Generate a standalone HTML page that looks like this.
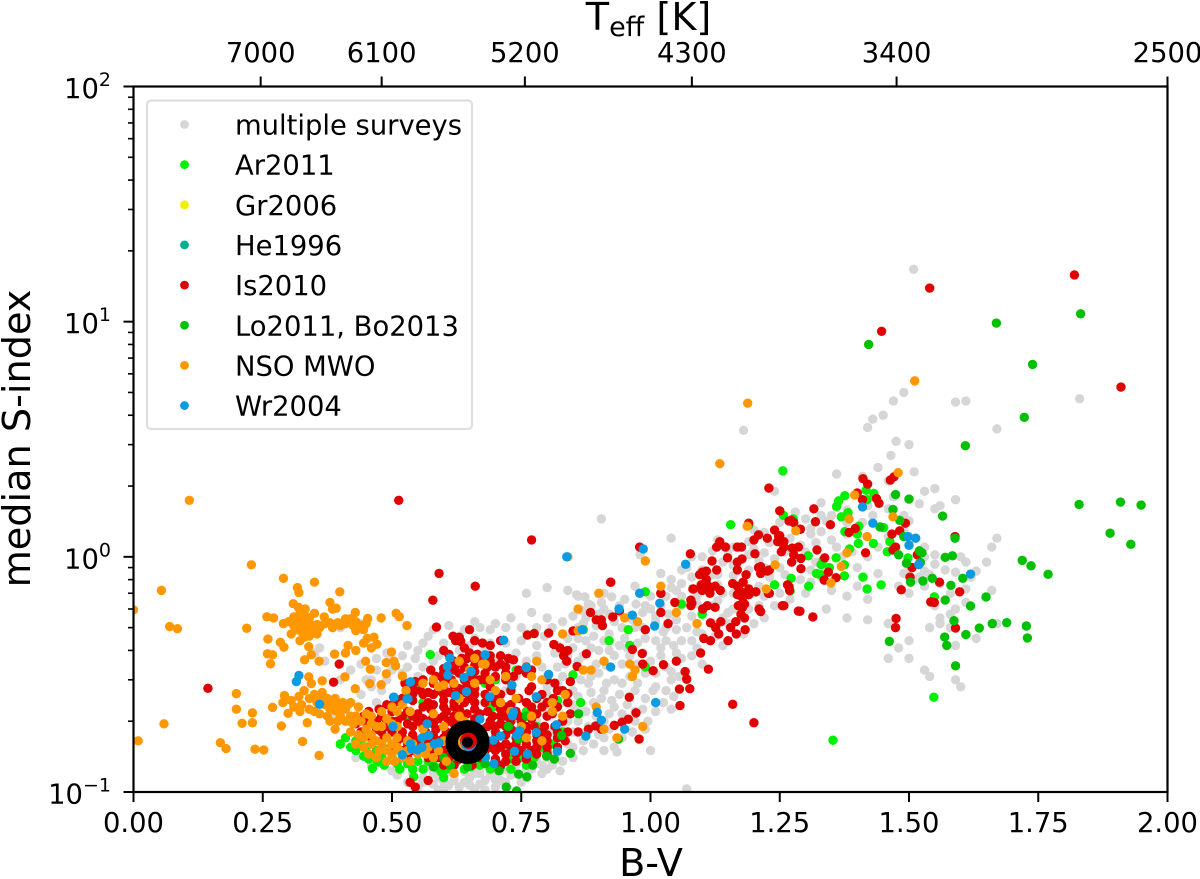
<!DOCTYPE html>
<html lang="en">
<head>
<meta charset="utf-8">
<title>Median S-index versus B-V</title>
<style>
html,body{margin:0;padding:0;background:#fff;}
svg{display:block;}
text{font-family:"DejaVu Sans","Liberation Sans",sans-serif;fill:#000;}
</style>
</head>
<body>
<svg id="chart" xmlns="http://www.w3.org/2000/svg" width="1200" height="879" viewBox="0 0 1200 879">
<defs><clipPath id="plot-clip"><rect x="133.5" y="86.5" width="1034" height="705.5"/></clipPath></defs>
<rect x="0" y="0" width="1200" height="879" fill="#fff"/>
<g id="points" clip-path="url(#plot-clip)"></g>
<g id="sun"></g>
<g id="axes"></g>
<g id="legend"></g>
<text x="651" y="876" font-size="38.2" text-anchor="middle">B-V</text>
<text x="648.5" y="30" font-size="38.2" text-anchor="middle">T<tspan font-size="27" dy="6">eff</tspan><tspan dy="-6"> [K]</tspan></text>
<text transform="translate(30,438.5) rotate(-90)" font-size="38.2" text-anchor="middle">median S-index</text>
</svg>
<script>
const xTickValues=[0,0.25,0.5,0.75,1,1.25,1.5,1.75,2];
const xTickLabels=["0.00","0.25","0.50","0.75","1.00","1.25","1.50","1.75","2.00"];
const yDecades=[-1,0,1,2];
const teffLabels=["7000","6100","5200","4300","3400","2500"];
const teffTickBV=[0.246,0.48,0.757,1.08,1.476,2.0];
const legendLabels=["multiple surveys","Ar2011","Gr2006","He1996","Is2010","Lo2011, Bo2013","NSO MWO","Wr2004"];
const legendColors=["#d6d6d6","#00f000","#f0f000","#00b090","#e00000","#00c000","#ff9800","#0a9be0"];
const sunPoint=[0.646,0.163];

const surveyGrey=[
[1.509,16.7],[1.83,4.7],[1.59,4.55],[1.61,4.6],[1.67,3.5],[1.475,3.1],[1.45,4.0],[1.47,4.6],[1.42,3.55],[1.18,3.45],[1.43,3.85],[1.49,5.0],[1.5,3.0],[1.465,2.7],[1.41,2.2],[1.51,2.3],[1.44,2.4],[1.36,2.25],[1.46,2.1],[0.905,1.45],[1.24,1.9],
[1.53,1.9],[1.55,1.95],[1.59,1.75],[1.47,1.8],[1.52,1.68],[1.55,1.6],[1.56,1.65],[1.42,1.65],[1.33,1.7],[1.36,1.62],[1.38,1.58],[1.35,1.5],[1.34,1.42],[1.33,1.5],[1.49,1.5],[1.5,1.42],[1.38,1.4],[1.3,1.45],[1.28,1.35],[1.31,1.32],[1.27,1.2],[1.33,1.28],[1.35,1.18],[1.31,1.25],[1.29,1.12],[1.26,1.05],[1.28,0.98],[1.3,1.05],[1.32,0.95],[1.34,0.9],[1.37,1.0],[1.36,1.1],[1.39,1.05],[1.33,0.82],[1.31,0.88],[1.24,0.98],[1.22,1.04],[1.23,0.82],[1.25,0.9],[1.24,0.76],[1.21,0.75],[1.6,1.0],[1.61,0.95],[1.65,0.95],[1.66,1.1],[1.67,1.2],[1.63,0.87],[1.62,0.82],[1.61,0.73],[1.59,0.86],[1.57,0.88],[1.55,0.93],[1.53,0.87],[1.52,0.95],[1.5,0.9],[1.54,0.84],[1.56,0.77],[1.53,0.75],[1.51,0.8],[1.49,0.85],[1.58,0.7],[1.66,0.72],[1.61,0.64],[1.59,0.6],[1.55,0.62],[1.56,0.55],[1.58,0.57],[1.56,0.52],[1.54,0.5],[1.58,0.5],[1.67,0.52],[1.63,0.45],[1.59,0.42],[1.48,0.41],[1.5,0.44],[1.46,0.37],[1.5,0.37],[1.53,0.33],[1.54,0.31],[1.59,0.3],[1.6,0.28],[1.42,0.66],[1.38,0.55],[1.42,0.54],[1.34,0.6],[1.46,0.52],
[0.98,1.02],[1.04,1.2],[0.97,0.75],[1.02,0.85],[1.06,0.88],[1.08,1.0],[1.1,1.0],[1.12,1.06],[1.15,1.02],[1.13,1.18],[1.16,1.1],[1.19,1.16],[1.2,1.3],[1.22,1.27],[1.19,1.02],[1.21,0.96],[1.04,0.74],[1.05,0.72],[1.09,0.68],[1.14,0.95],[1.12,0.84],[1.16,0.83],[1.18,0.78],[1.1,0.76],[1.08,0.82],[1.06,0.77],[1.0,0.68],[1.02,0.62],[1.14,0.7],[1.17,0.62],[1.2,0.7],[1.21,0.62],[1.15,0.58],[1.12,0.62],[1.1,0.58],[1.08,0.56],[1.06,0.62],[1.18,0.55],[1.14,0.55],[1.22,0.55],[1.12,0.52],[1.18,0.47],[1.14,0.42],[1.09,0.48],[1.07,0.5],[1.05,0.54],[1.03,0.5],[1.01,0.56],[1.03,0.44],[1.06,0.44],[1.09,0.41],[1.02,0.41],[0.99,0.45],[0.97,0.5],[0.94,0.62],[0.91,0.7],[0.88,0.63],[0.86,0.68],[0.84,0.72],[0.8,0.74],[0.76,0.7],[0.87,0.52],[0.9,0.57],[0.93,0.53],[0.96,0.56],[0.99,0.62],[0.95,0.45],[0.92,0.47],[0.89,0.46],[0.86,0.45],[0.83,0.47],[0.8,0.55],[0.77,0.58],[0.73,0.55],[0.7,0.52],[0.67,0.5],[0.64,0.49],[0.82,0.42],[0.78,0.42],[0.75,0.44],[0.72,0.43],[0.69,0.43],[0.84,0.38],[0.87,0.38],[0.9,0.4],[0.93,0.38],[0.96,0.38],[1.0,0.36],[1.03,0.34],[0.99,0.32],[0.96,0.31],[0.93,0.3],[0.9,0.32],[0.87,0.33],[0.82,0.34],[0.79,0.34],[0.76,0.36],[0.73,0.36],[0.7,0.36],[0.67,0.37],[0.63,0.4],[0.6,0.43],[0.57,0.46],[0.55,0.4],[0.52,0.38],[0.5,0.36],[0.47,0.33],[0.44,0.35],[0.42,0.33],[0.45,0.3],
[0.97,0.27],[0.94,0.26],[0.91,0.27],[0.88,0.29],[0.85,0.27],[0.82,0.29],[0.8,0.26],[0.77,0.28],[0.74,0.31],[0.99,0.25],[1.01,0.28],[0.97,0.22],[0.93,0.23],[0.89,0.24],[0.86,0.22],[0.83,0.24],[0.8,0.22],[0.76,0.24],[0.91,0.2],[0.88,0.19],[0.84,0.2],[0.81,0.18],[0.87,0.165],[0.84,0.16],[0.82,0.15],[0.8,0.16],[0.85,0.18],[0.91,0.17],[0.77,0.14],[0.79,0.13],[0.76,0.125],[0.74,0.13],[0.99,0.185],[1.0,0.15],[0.93,0.155],[1.07,0.103],[1.04,0.3],[1.07,0.3],[1.1,0.35],[1.06,0.37],[0.66,0.103],[0.68,0.102],[0.7,0.105],[0.63,0.105],[0.6,0.103],[0.58,0.108],[0.55,0.105],[0.53,0.11],[0.56,0.115],[0.59,0.115],[0.62,0.112],[0.65,0.115],[0.68,0.112],[0.71,0.112],[0.73,0.118],[0.61,0.122],[0.64,0.122],[0.67,0.12],[0.7,0.12],[0.72,0.125],[0.66,0.127],[0.69,0.128],[0.51,0.118],[0.5,0.123],[0.57,0.128],[0.6,0.13],[0.46,0.13],[0.43,0.14],[0.41,0.17],
[0.5,0.22],[0.47,0.24],[0.48,0.27],[0.44,0.26],[0.42,0.24],[0.53,0.28],[0.55,0.31],[0.52,0.32],[0.49,0.3],[0.58,0.36],[0.6,0.33],[0.56,0.34],[0.62,0.36],[0.65,0.33],[0.68,0.31],[0.46,0.28],[0.37,0.36],[0.35,0.39],[0.36,0.41],[0.34,0.55],[0.4,0.5],[0.44,0.52],[0.4,0.3],[0.37,0.24],[0.39,0.21],
[0.72,0.2],[0.7,0.16],[0.75,0.18],[0.78,0.2],[0.72,0.27],[0.7,0.3],[0.78,0.16],[0.74,0.15]
];
const surveyGreyBand=[
[0.857,0.69],[0.873,0.676],[0.925,0.676],[0.885,0.62],[0.905,0.64],[0.95,0.66],[0.972,0.63],[0.868,0.59],[0.91,0.6],[0.94,0.58],[0.985,0.58],[1.0,0.6],[0.85,0.56],[0.875,0.55],[0.92,0.57],[0.965,0.54],[1.01,0.53],[1.035,0.57],[0.83,0.53],[0.86,0.5],[0.895,0.51],[0.945,0.5],[0.985,0.5],[1.025,0.48],[1.05,0.49],[0.81,0.5],[0.84,0.45],[0.875,0.44],[0.91,0.44],[0.94,0.42],[0.975,0.43],[1.01,0.44],[1.045,0.42],[0.795,0.46],[0.815,0.39],[0.85,0.41],[0.885,0.41],[0.92,0.4],[0.955,0.41],[0.985,0.39],[1.02,0.38],[1.05,0.39],[1.08,0.38],[0.78,0.38],[0.835,0.35],[0.86,0.36],[0.895,0.35],[0.915,0.345],[0.945,0.35],[0.975,0.35],[1.01,0.32],[1.04,0.325],[1.055,0.31],[0.8,0.31],[0.83,0.31],[0.865,0.3],[0.885,0.31],[0.915,0.29],[0.945,0.29],[0.975,0.29],[1.005,0.27],[1.03,0.27],[1.045,0.255],[0.8,0.28],[0.835,0.25],[0.86,0.255],[0.885,0.265],[0.905,0.25],[0.925,0.245],[0.955,0.235],[0.985,0.225],[1.01,0.22],[1.025,0.24],[1.04,0.225],[0.815,0.225],[0.85,0.235],[0.875,0.22],[0.895,0.21],[0.92,0.215],[0.945,0.215],[0.97,0.2],[0.995,0.2],[0.83,0.195],[0.86,0.2],[0.875,0.18],[0.9,0.175],[0.92,0.185],[0.945,0.17],[0.965,0.18],[0.85,0.155],[0.87,0.15],[0.89,0.16],[0.91,0.15],[0.83,0.135],[0.85,0.14],[0.81,0.13],[0.79,0.12],[0.825,0.123],[0.935,0.148],[0.81,0.143],
[1.08,0.44],[1.1,0.47],[1.125,0.46],[1.15,0.52],[1.16,0.6],[1.13,0.65],[1.09,0.63],[1.11,0.72],[1.13,0.76],[1.16,0.7],[1.19,0.6],[1.2,0.52],[1.06,0.68],[1.03,0.68],[1.04,0.8],[1.07,0.9],[1.1,0.88],[1.13,0.84],[1.16,0.92],[1.19,0.88],[1.22,0.9],[1.25,0.7],[1.27,0.66],[1.24,0.62],[1.22,0.68],[1.26,0.84],[1.29,0.8],[1.31,0.78],[1.35,0.72],[1.3,0.7],[1.38,0.68],[1.4,0.75],[1.4,0.9],[1.42,1.0],[1.44,1.1],[1.46,1.22],[1.43,1.5],[1.46,1.6],[1.49,1.3],[1.51,1.2],[1.53,1.1],[1.53,1.0],[1.55,1.02],[1.52,0.82],[1.5,0.7],[1.48,0.75],[1.44,0.85],[1.38,1.25],[1.41,1.4],[1.32,1.15],[1.28,1.55],[1.25,1.4],[1.23,1.15],[1.2,1.08],
[0.44,0.2],[0.46,0.3],[0.49,0.39],[0.53,0.42],[0.56,0.43],[0.59,0.38],[0.58,0.49],[0.61,0.51],[0.63,0.46],[0.66,0.45],[0.66,0.53],[0.69,0.49],[0.72,0.5],[0.75,0.5],[0.78,0.5],[0.76,0.47],[0.74,0.39],[0.78,0.37],[0.68,0.4],[0.65,0.42],[0.53,0.34],[0.5,0.33],[0.47,0.37],[0.545,0.37],
[0.56,0.11],[0.6,0.11],[0.64,0.11],[0.67,0.108],[0.7,0.113],[0.72,0.11],[0.74,0.12],[0.62,0.118],[0.58,0.12],[0.54,0.12],[0.66,0.12],[0.69,0.118],[0.75,0.11],[0.77,0.125],[0.8,0.14],[0.8,0.125],[0.78,0.135],[0.76,0.115],[0.59,0.102],[0.61,0.107],[0.65,0.107]
];
const surveyAr=[
[1.256,2.32],[1.417,1.92],[1.432,1.86],[1.376,1.82],[1.364,1.73],[1.36,1.64],[1.382,1.54],[1.369,1.48],[1.419,1.75],[1.403,1.35],[1.376,1.28],[1.4,1.25],[1.451,1.33],[1.402,1.14],[1.431,1.14],[1.463,1.16],[1.458,1.05],[1.385,1.08],[1.498,0.99],[1.359,0.99],[1.305,1.01],[1.375,0.925],[1.33,0.927],[1.346,0.9],[1.321,0.85],[1.329,0.84],[1.375,0.83],[1.272,0.81],[1.411,0.82],[1.306,0.75],[1.27,0.716],[1.419,0.73],[1.446,0.76],[1.549,0.676],[1.548,0.253],[1.353,0.166],[1.276,1.45],[1.334,0.97],[1.257,1.5],[1.155,1.37],[1.19,1.36],
[0.99,0.71],[0.957,0.49],[0.96,0.42],[0.85,0.315],[0.87,0.49],[0.92,0.44],[0.99,0.34],[1.06,0.63],[1.1,0.57],[1.24,0.76],[0.865,0.24],[0.82,0.245],[0.78,0.19],[0.74,0.33],[0.7,0.3],[0.7,0.25],[0.695,0.23],[0.754,0.209],[0.76,0.22],[0.78,0.165],[0.73,0.27],[0.574,0.384],[0.632,0.22],[0.6,0.3],[0.55,0.28],[0.535,0.26],[0.53,0.21],[0.56,0.24],[0.65,0.255],[0.68,0.29],
[0.462,0.126],[0.542,0.116],[0.56,0.125],[0.585,0.127],[0.595,0.122],[0.51,0.132],[0.485,0.13],[0.472,0.134],[0.455,0.138],[0.445,0.142],[0.5,0.14],[0.53,0.132],[0.55,0.135],[0.57,0.135],[0.605,0.125],[0.625,0.135],[0.652,0.128],[0.67,0.13],[0.69,0.125],[0.71,0.128],[0.6,0.115],[0.43,0.165],[0.41,0.17],[0.42,0.155],[0.44,0.165],[0.45,0.155],[0.47,0.15],[0.49,0.152],[0.52,0.15],[0.575,0.14],[0.73,0.138],[0.75,0.14],[0.76,0.13],[0.79,0.155],[0.81,0.16],[0.62,0.15],
[0.48,0.14],[0.515,0.125],[0.54,0.125],[0.58,0.13],[0.64,0.125],[0.61,0.13],[0.43,0.15],[0.4,0.16],[0.73,0.125],[0.775,0.14],[0.8,0.15],[0.83,0.18]
];
const surveyIs=[
[1.82,15.8],[1.54,13.9],[1.447,9.1],[1.91,5.27],[0.513,1.74],[0.77,1.18],[1.229,1.96],[1.25,1.57],[1.316,1.6],[1.319,1.41],[1.272,1.43],[1.277,1.4],[1.268,1.42],[1.29,1.31],[1.348,1.37],[1.226,1.2],[1.25,1.23],[1.246,1.16],[1.258,1.1],[1.253,1.05],[1.274,1.09],[1.286,1.1],[1.277,1.02],[1.291,0.985],[1.273,0.95],[1.291,0.89],[1.322,1.07],[1.337,0.99],[1.344,0.86],[1.359,0.815],[1.336,0.796],[1.268,0.746],[1.23,0.7],[1.258,0.62],[1.289,0.587],[1.314,0.555],[1.227,0.873],[1.213,0.585],[1.213,0.908],[1.411,2.15],[1.42,2.04],[1.464,2.12],[1.471,2.19],[1.41,1.75],[1.4,1.87],[1.437,1.77],[1.442,1.69],[1.396,1.32],[1.384,1.27],[1.493,1.39],[1.467,1.25],[1.482,1.29],[1.474,1.1],[1.469,1.07],[1.416,1.04],[1.516,1.02],[1.506,0.9],[1.502,0.82],[1.559,0.78],[1.485,0.724],[1.598,0.71],[1.542,0.643],[1.549,0.64],[1.589,1.22],[1.475,0.547],[1.474,0.5],[1.59,0.498],
[0.979,1.1],[1.077,1.03],[1.119,0.96],[1.149,0.99],[1.128,0.88],[1.1,0.86],[1.108,0.87],[1.095,0.84],[1.108,0.8],[1.112,0.75],[1.125,0.75],[1.082,0.73],[1.02,0.7],[1.047,0.64],[1.078,0.655],[1.078,0.62],[1.101,0.6],[0.923,0.78],[1.134,1.16],[1.128,1.1],[1.145,1.1],[1.176,1.1],[1.168,1.1],[1.19,1.39],[1.2,1.18],[1.209,1.24],[1.202,1.03],[1.177,0.98],[1.209,0.9],[1.226,0.87],[1.168,0.95],[1.168,0.88],[1.185,0.84],[1.159,0.77],[1.179,0.78],[1.172,0.72],[1.19,0.73],[1.18,0.7],[1.204,0.71],[1.168,0.69],[1.178,0.67],[1.178,0.61],[1.258,1.16],[1.24,1.3],[1.248,1.22],
[0.144,0.276],[0.398,0.35],[0.387,0.293],[0.591,0.85],[0.661,0.75],[0.579,0.654],[0.586,0.503],[0.65,0.49],[0.623,0.44],[0.633,0.437],[0.803,0.474],[0.762,0.465],[0.775,0.472],[0.813,0.424],[0.825,0.41],[0.84,0.4],[0.832,0.38],[0.838,0.36],[0.876,0.387],[0.858,0.342],[0.845,0.295],[0.82,0.27],[0.84,0.262],[0.884,0.58],[0.895,0.54],[0.905,0.54],[0.907,0.51],[0.927,0.555],[0.94,0.59],[0.85,0.484],[0.923,0.78],[1.02,0.7],[1.083,0.73],[1.08,0.635],[1.02,0.58],[1.101,0.6],[1.034,0.52],[0.99,0.49],[0.965,0.404],[0.984,0.388],[1.025,0.348],[0.985,0.35],[1.005,0.328],[1.05,0.36],[1.067,0.325],[1.07,0.302],[1.076,0.275],[1.056,0.274],[1.057,0.233],[0.959,0.253],[0.972,0.217],[0.957,0.204],[0.93,0.192],[0.945,0.198],[0.894,0.191],[0.905,0.185],[0.978,0.168],[1.159,0.236],[1.2,0.197],[1.112,0.333],[1.097,0.39],[1.15,0.44],[1.116,0.44],[1.103,0.45],[1.126,0.5],[1.136,0.53],[1.132,0.47],[1.166,0.47],[1.116,0.524],[1.1,0.72],[1.098,0.76],[1.115,0.7],[1.11,0.62],[1.125,0.61],[1.135,0.72],[1.17,0.62],[1.182,0.63],[1.19,0.69],[1.168,0.75],[1.182,0.55],[1.175,0.57],[1.21,0.6],[1.165,0.53],[1.183,0.49],[1.155,0.5],[1.255,0.62],[1.286,0.588],[1.23,0.88],[1.213,0.85],[1.265,0.76],[1.269,0.72],[1.228,0.7],
[0.618,0.46],[0.63,0.455],[0.66,0.44],[0.675,0.43],[0.64,0.41],[0.69,0.42],[0.71,0.44],[0.725,0.37],[0.71,0.38],[0.735,0.365],[0.69,0.36],[0.665,0.385],[0.65,0.39],[0.622,0.345],[0.6,0.4],[0.61,0.385],[0.62,0.36],[0.635,0.37],[0.645,0.37],[0.66,0.365],[0.672,0.37],[0.685,0.34],[0.7,0.31],[0.72,0.32],[0.745,0.33],[0.76,0.34],[0.77,0.33],[0.76,0.32],[0.72,0.34],[0.735,0.31],[0.765,0.27],[0.77,0.28],[0.79,0.26],[0.8,0.3],[0.815,0.29],[0.83,0.27],[0.812,0.25],[0.73,0.27],[0.745,0.25],[0.76,0.24],[0.73,0.235],[0.72,0.3],[0.71,0.26],[0.69,0.28],[0.67,0.3],[0.65,0.31],[0.63,0.32],[0.615,0.3],[0.6,0.3],[0.585,0.31],[0.6,0.335],[0.575,0.33],[0.56,0.3],[0.545,0.295],[0.525,0.29],[0.54,0.275],[0.555,0.27],[0.57,0.265],[0.59,0.27],[0.61,0.265],[0.63,0.275],[0.645,0.285],[0.66,0.275],[0.68,0.26],[0.695,0.25],[0.65,0.25],[0.62,0.24],[0.6,0.245],[0.57,0.24],[0.54,0.245],[0.52,0.25],[0.505,0.24],[0.49,0.235],[0.475,0.225],[0.5,0.22],[0.53,0.22],[0.55,0.215],[0.575,0.225],[0.605,0.22],[0.63,0.225],[0.66,0.225],[0.685,0.22],[0.71,0.225],[0.73,0.2],[0.75,0.2],[0.78,0.215],[0.8,0.21],[0.775,0.19],[0.795,0.19],[0.815,0.19],[0.83,0.2],[0.81,0.215],[0.845,0.215],[0.88,0.185],[0.86,0.18],[0.84,0.18],[0.455,0.22],[0.445,0.21],[0.47,0.2],[0.49,0.2],[0.51,0.2],[0.53,0.195],[0.55,0.2],[0.57,0.2],[0.59,0.205],[0.61,0.2],[0.635,0.205],[0.66,0.205],[0.69,0.2],[0.71,0.195],
[0.46,0.195],[0.48,0.18],[0.5,0.18],[0.52,0.18],[0.54,0.175],[0.565,0.18],[0.585,0.185],[0.605,0.18],[0.625,0.185],[0.65,0.19],[0.675,0.185],[0.7,0.18],[0.72,0.175],[0.74,0.18],[0.76,0.18],[0.78,0.175],[0.8,0.175],[0.82,0.17],[0.835,0.165],[0.51,0.165],[0.53,0.16],[0.55,0.165],[0.57,0.165],[0.59,0.165],[0.61,0.165],[0.63,0.165],[0.66,0.165],[0.685,0.165],[0.7,0.16],[0.72,0.16],[0.74,0.16],[0.76,0.16],[0.78,0.155],[0.8,0.155],[0.82,0.155],[0.5,0.155],[0.52,0.15],[0.54,0.15],[0.56,0.15],[0.58,0.15],[0.6,0.15],[0.62,0.15],[0.64,0.145],[0.66,0.15],[0.68,0.15],[0.7,0.15],[0.72,0.145],[0.74,0.145],[0.76,0.145],[0.78,0.145],[0.8,0.145],[0.57,0.14],[0.59,0.14],[0.61,0.14],[0.63,0.138],[0.65,0.14],[0.68,0.14],[0.7,0.138],[0.72,0.135],[0.74,0.135],[0.76,0.138],[0.6,0.13],[0.62,0.13],[0.655,0.13],[0.71,0.13],[0.53,0.14],[0.48,0.165],[0.46,0.17],[0.44,0.18],[0.43,0.195],[0.42,0.2],[0.545,0.105],[0.57,0.112],[0.535,0.11]
];
const surveyIsDense=[
[0.52,0.21],[0.54,0.21],[0.56,0.205],[0.58,0.21],[0.6,0.21],[0.62,0.21],[0.645,0.215],[0.67,0.215],[0.695,0.21],[0.72,0.21],[0.54,0.19],[0.56,0.19],[0.58,0.195],[0.6,0.19],[0.62,0.195],[0.64,0.18],[0.66,0.195],[0.685,0.19],[0.7,0.17],[0.72,0.19],[0.74,0.17],[0.76,0.17],[0.78,0.165],[0.8,0.165],[0.82,0.18],[0.52,0.17],[0.55,0.155],[0.57,0.155],[0.59,0.155],[0.61,0.155],[0.63,0.155],[0.65,0.155],[0.67,0.14],[0.69,0.155],[0.71,0.155],[0.73,0.155],[0.75,0.15],[0.77,0.15],[0.6,0.17],[0.62,0.175],[0.58,0.175],[0.56,0.17],[0.54,0.165],[0.7,0.19],[0.73,0.185],[0.75,0.17],[0.79,0.18],
[0.56,0.23],[0.58,0.235],[0.6,0.23],[0.62,0.23],[0.64,0.24],[0.66,0.24],[0.68,0.24],[0.58,0.26],[0.6,0.26],[0.62,0.26],[0.64,0.265],[0.66,0.26],[0.56,0.26],[0.54,0.26],[0.6,0.28],[0.62,0.285],[0.58,0.29],[0.64,0.3],[0.66,0.3],[0.68,0.3],[0.66,0.325],[0.64,0.34],[0.68,0.32],[0.62,0.33],[0.6,0.32],[0.66,0.345],[0.7,0.34],[0.69,0.38],[0.71,0.35],
[0.5,0.2],[0.48,0.21],[0.46,0.205],[0.47,0.185],[0.49,0.19],[0.43,0.21],[0.445,0.2],[0.74,0.22],[0.77,0.23],[0.78,0.25],[0.79,0.23],[0.8,0.24],[0.82,0.23],[0.84,0.24],[0.77,0.205],[0.72,0.23],[0.7,0.24],[0.71,0.21],[0.745,0.21],[0.76,0.19]
];
const surveyLo=[
[1.609,2.97],[1.829,1.67],[1.909,1.71],[1.949,1.66],[1.889,1.26],[1.929,1.13],[1.719,0.966],[1.736,0.916],[1.769,0.843],[1.565,1.49],[1.474,1.84],[1.5,1.76],[1.469,1.59],[1.482,1.43],[1.444,1.34],[1.49,1.22],[1.589,1.2],[1.57,0.995],[1.584,1.01],[1.52,1.06],[1.525,1.04],[1.48,1.02],[1.495,0.94],[1.522,0.946],[1.604,0.81],[1.545,0.81],[1.527,0.79],[1.503,0.78],[1.581,0.757],[1.649,0.675],[1.57,0.655],[1.619,0.618],[1.587,0.535],[1.689,0.525],[1.661,0.52],[1.727,0.508],[1.636,0.498],[1.729,0.452],[1.61,0.467],[1.569,0.456],[1.573,0.42],[1.462,0.437],[1.59,0.344],[1.669,9.86],[1.832,10.8],[1.739,6.58],[1.723,3.92],[1.422,8.0],
[0.861,0.215],[0.938,0.168],[0.828,0.174],[0.845,0.146],[0.814,0.138],[0.799,0.142],[0.772,0.13],[0.761,0.116],[0.745,0.119],[0.707,0.123],[0.721,0.105],[0.741,0.101],[0.725,0.19],[0.745,0.168],[0.613,0.13],[0.58,0.128],[0.646,0.128],[0.68,0.132],[0.6,0.14],[0.76,0.21]
];
const surveyNso=[
[1.188,4.5],[1.511,5.6],[1.134,2.49],[0.108,1.74],[0.0,0.595],[0.054,0.72],[0.07,0.505],[0.085,0.495],[0.009,0.165],[0.059,0.195],[0.228,0.925],[1.479,2.28],[1.395,1.83],[1.384,1.45],[1.469,1.48],[1.281,1.29],[1.419,1.22],[1.38,1.04],[1.369,0.91],[1.241,0.925],[1.349,0.774],[1.224,0.73],[1.187,1.35],[0.84,1.0],[0.99,0.96],[1.02,0.75],[0.9,0.7],
[0.29,0.81],[0.35,0.78],[0.317,0.74],[0.32,0.705],[0.399,0.71],[0.38,0.64],[0.309,0.632],[0.319,0.61],[0.332,0.6],[0.385,0.6],[0.392,0.605],[0.429,0.58],[0.35,0.575],[0.369,0.555],[0.258,0.556],[0.271,0.55],[0.508,0.575],[0.514,0.557],[0.479,0.55],[0.453,0.547],[0.219,0.497],[0.529,0.51],[0.45,0.52],
[0.3,0.53],[0.31,0.555],[0.32,0.565],[0.33,0.57],[0.34,0.55],[0.325,0.54],[0.34,0.525],[0.31,0.51],[0.32,0.52],[0.33,0.51],[0.345,0.505],[0.355,0.515],[0.315,0.49],[0.325,0.48],[0.335,0.49],[0.348,0.485],[0.36,0.5],[0.37,0.52],[0.38,0.525],[0.395,0.525],[0.41,0.545],[0.42,0.545],[0.43,0.53],[0.44,0.51],[0.41,0.52],[0.425,0.51],[0.385,0.5],[0.4,0.51],[0.445,0.49],[0.43,0.485],[0.33,0.455],[0.322,0.44],[0.34,0.46],[0.355,0.47],[0.305,0.47],[0.29,0.52],
[0.26,0.447],[0.284,0.433],[0.291,0.413],[0.259,0.387],[0.269,0.383],[0.265,0.351],[0.339,0.415],[0.344,0.383],[0.331,0.365],[0.359,0.36],[0.389,0.386],[0.41,0.39],[0.415,0.42],[0.43,0.4],[0.445,0.43],[0.46,0.41],[0.452,0.45],[0.471,0.425],[0.465,0.455],[0.499,0.394],[0.449,0.36],[0.458,0.333],[0.489,0.355],[0.504,0.36],[0.507,0.344],[0.489,0.318],[0.409,0.309],[0.457,0.289],[0.479,0.286],[0.52,0.311],[0.527,0.27],[0.339,0.309],[0.344,0.289],[0.365,0.297],[0.429,0.275],[0.56,0.29],
[0.199,0.262],[0.199,0.225],[0.23,0.217],[0.21,0.196],[0.23,0.197],[0.269,0.229],[0.289,0.24],[0.292,0.257],[0.299,0.216],[0.286,0.191],[0.336,0.197],[0.327,0.164],[0.359,0.143],[0.168,0.162],[0.179,0.153],[0.235,0.152],[0.252,0.151],[0.39,0.185],
[0.33,0.27],[0.32,0.255],[0.305,0.245],[0.31,0.23],[0.325,0.235],[0.34,0.25],[0.35,0.26],[0.365,0.265],[0.375,0.25],[0.355,0.24],[0.34,0.225],[0.322,0.22],[0.37,0.235],[0.38,0.225],[0.36,0.215],[0.375,0.21],[0.385,0.24],[0.39,0.222],[0.395,0.235],[0.4,0.21],[0.41,0.225],[0.42,0.21],[0.405,0.24],[0.42,0.24],[0.435,0.23],[0.395,0.2],[0.41,0.2],[0.38,0.2],[0.425,0.195],[0.44,0.2],[0.45,0.215],[0.46,0.21],[0.47,0.19],[0.46,0.175],[0.45,0.185],[0.435,0.175],[0.42,0.18],[0.48,0.22],[0.5,0.23],[0.51,0.22],[0.52,0.235],[0.535,0.22],[0.49,0.205],
[0.445,0.155],[0.46,0.16],[0.475,0.15],[0.49,0.17],[0.5,0.16],[0.51,0.17],[0.515,0.15],[0.52,0.14],[0.53,0.15],[0.505,0.135],[0.49,0.135],[0.47,0.14],[0.455,0.145],[0.43,0.16],[0.51,0.19],[0.5,0.145],[0.54,0.16],[0.55,0.145],[0.565,0.145],[0.58,0.14],[0.59,0.15],[0.605,0.135],[0.535,0.135],[0.6,0.165],[0.63,0.21],[0.56,0.185],[0.58,0.215],[0.57,0.155],[0.62,0.12],[0.6,0.19],[0.64,0.2],
[0.58,0.3],[0.59,0.28],[0.6,0.285],[0.62,0.29],[0.66,0.37],[0.63,0.36],[0.65,0.33],[0.68,0.35],[0.675,0.35],[0.69,0.3],[0.72,0.31],[0.63,0.25],[0.66,0.29],[0.7,0.27],[0.71,0.24],[0.73,0.22],[0.74,0.25],[0.75,0.19],[0.77,0.21],[0.76,0.17],[0.79,0.165],[0.81,0.22],[0.83,0.21],[0.79,0.3],[0.78,0.36],[0.77,0.31],[0.83,0.47],[0.86,0.485],[0.87,0.33],[0.885,0.33],[0.835,0.26],[0.81,0.24],[0.91,0.36],[0.96,0.35],[0.97,0.33],[0.965,0.31],[0.895,0.23],[0.985,0.19],[0.935,0.17],[0.91,0.185],[1.05,0.58],[0.975,0.53],[0.95,0.55],[0.86,0.6],[1.09,0.52],
[0.36,0.25],[0.35,0.22],[0.39,0.25],[0.4,0.225],[0.415,0.235],[0.43,0.21],[0.445,0.17],[0.47,0.165],[0.48,0.16],[0.49,0.15],[0.51,0.155],[0.53,0.165],[0.46,0.195],[0.48,0.19],[0.5,0.195]
];
const surveyWr=[
[1.41,1.63],[1.43,1.39],[1.498,1.22],[1.513,1.2],[1.5,1.12],[1.519,0.927],[1.619,0.845],[0.986,1.08],[1.068,0.93],[0.979,0.7],[1.018,0.635],[0.939,0.6],[0.965,0.565],[1.008,0.508],[0.868,0.49],[0.923,0.34],[0.803,0.316],[0.897,0.218],[0.905,0.202],[0.95,0.185],[0.875,0.173],[1.01,0.24],[0.838,1.0],[0.32,0.313],[0.315,0.295],[0.36,0.236],[0.535,0.293],[0.503,0.253],[0.529,0.249],
[0.612,0.371],[0.607,0.342],[0.608,0.314],[0.639,0.307],[0.653,0.325],[0.68,0.383],[0.536,0.294],[0.504,0.253],[0.531,0.249],[0.623,0.257],[0.644,0.267],[0.689,0.254],[0.716,0.442],[0.76,0.338],[0.732,0.285],[0.779,0.254],[0.735,0.219],[0.733,0.211],[0.67,0.204],[0.502,0.19],[0.568,0.195],[0.571,0.174],[0.558,0.17],[0.536,0.16],[0.538,0.152],[0.549,0.151],[0.558,0.155],[0.582,0.16],[0.591,0.162],[0.52,0.144],[0.697,0.132],[0.681,0.141],[0.696,0.166],[0.71,0.173],[0.737,0.149],[0.741,0.174],[0.747,0.182],[0.762,0.145],[0.779,0.179],[0.82,0.149],[0.818,0.193]
];
const surveyGr=[];
const surveyHe=[];

const seriesList=[
  ["grey",surveyGrey.concat(surveyGreyBand),legendColors[0]],
  ["ar2011",surveyAr,legendColors[1]],
  ["gr2006",surveyGr,legendColors[2]],
  ["he1996",surveyHe,legendColors[3]],
  ["is2010",surveyIs.concat(surveyIsDense),legendColors[4]],
  ["lo2011-bo2013",surveyLo,legendColors[5]],
  ["nso-mwo",surveyNso,legendColors[6]],
  ["wr2004",surveyWr,legendColors[7]]
];

const NS="http://www.w3.org/2000/svg";
const plotLeft=133.5,plotRight=1167.5,plotTop=86.5,plotBottom=792;
function xScale(bv){return plotLeft+(plotRight-plotLeft)*bv/2;}
function yScale(s){return plotBottom-(Math.log10(s)+1)*(plotBottom-plotTop)/3;}
function make(tag,attrs,parent){
  const el=document.createElementNS(NS,tag);
  for(const k in attrs){el.setAttribute(k,attrs[k]);}
  parent.appendChild(el);
  return el;
}

const pointsGroup=document.getElementById("points");
seriesList.forEach(function(series){
  series[1].forEach(function(p){
    const dot=make("circle",{cx:xScale(p[0]),cy:yScale(p[1]),r:4.7,fill:series[2]},pointsGroup);
    
    
  });
});

const sunGroup=document.getElementById("sun");
const sunX=xScale(sunPoint[0]),sunY=yScale(sunPoint[1]);
[[22,"#000",0,0],[8.5,"#ff9800",-1,0],[8.5,"#e00000",1,-1],[8,"#0a9be0",1,1],[7.5,"#e00000",1.5,-0.5],[5.5,"#000",0,0]].forEach(function(c){
  const ring=make("circle",{cx:sunX+c[2],cy:sunY+c[3],r:c[0],fill:c[1]},sunGroup);
  
  
});

const axesGroup=document.getElementById("axes");
const frame=make("rect",{x:plotLeft,y:plotTop,width:plotRight-plotLeft,height:plotBottom-plotTop,fill:"none",stroke:"#000","stroke-width":2.2},axesGroup);



xTickValues.forEach(function(v,i){
  const x=xScale(v);
  const tick=make("line",{x1:x,x2:x,y1:plotBottom,y2:plotBottom+10,stroke:"#000","stroke-width":2},axesGroup);
  
  
  const label=make("text",{x:x,y:832,"font-size":27.4,"text-anchor":"middle"},axesGroup);
  label.textContent=xTickLabels[i];
  
  
});

teffLabels.forEach(function(t,i){
  const x=xScale(teffTickBV[i]);
  const tick=make("line",{x1:x,x2:x,y1:plotTop,y2:plotTop-10,stroke:"#000","stroke-width":2},axesGroup);
  
  
  const label=make("text",{x:x,y:62,"font-size":27.4,"text-anchor":"middle"},axesGroup);
  label.textContent=t;
  
  
});

yDecades.forEach(function(d){
  const y=yScale(Math.pow(10,d));
  const tick=make("line",{x1:plotLeft,x2:plotLeft-10,y1:y,y2:y,stroke:"#000","stroke-width":2},axesGroup);
  
  
  const label=make("text",{x:111,y:y+11.5,"font-size":27.4,"text-anchor":"end"},axesGroup);
  
  
  const base=make("tspan",{},label);
  base.textContent="10";
  const exp=make("tspan",{"font-size":19,dy:-12},label);
  exp.textContent=(d<0?"\u2212":"")+Math.abs(d);
  if(d<2){
    for(let m=2;m<=9;m++){
      const my=yScale(m*Math.pow(10,d));
      const minor=make("line",{x1:plotLeft,x2:plotLeft-5.5,y1:my,y2:my,stroke:"#000","stroke-width":1.6},axesGroup);
      
      
    }
  }
});

const legendGroup=document.getElementById("legend");
const legendBox=make("rect",{x:147,y:100.5,width:325,height:328.5,rx:4,ry:4,fill:"#fff","fill-opacity":0.8,stroke:"#dedede","stroke-width":2.2},legendGroup);


legendLabels.forEach(function(name,i){
  const rowY=124.5+i*40.15;
  const marker=make("circle",{cx:184.5,cy:rowY,r:4.4,fill:legendColors[i]},legendGroup);
  
  
  const label=make("text",{x:235,y:rowY+10,"font-size":27.4},legendGroup);
  label.textContent=name;
  
  
});
</script>
</body>
</html>
